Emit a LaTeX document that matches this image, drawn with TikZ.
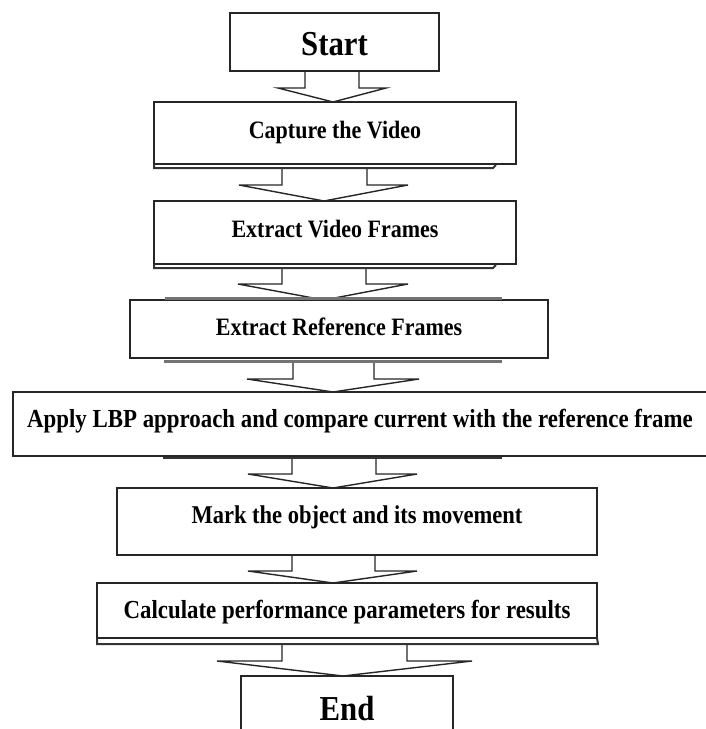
\documentclass[tikz,border=0pt]{standalone}
\usepackage{fontspec}
\newfontfamily\tnr{Liberation Serif}[FakeStretch=0.88]
\pgfdeclarelayer{bg}
\pgfsetlayers{bg,main}
\begin{document}
\begin{tikzpicture}[x=1pt,y=-1pt,
  box/.style={draw=black!85, line width=1.6pt, fill=white, rectangle, inner sep=0pt, outer sep=0pt,
    anchor=north west, font=\tnr\bfseries\fontsize{25}{28}\selectfont},
  bigtext/.style={font=\tnr\bfseries\fontsize{35}{40}\selectfont},
  widetext/.style={font=\tnr\bfseries\fontsize{26}{29}\selectfont},
  barrow/.style={draw=black!85, line width=1.4pt, fill=white, line join=miter},
  shade/.style={draw=black!80, line width=2pt},
  gshade/.style={draw=black!55, line width=3pt}]
\useasboundingbox (0,0) rectangle (706,729);

% boxes
\node[box,bigtext,minimum width=209pt,text height=42pt,text depth=16pt] (start) at (230,13) {Start};
\node[box,minimum width=362pt,text height=36pt,text depth=26pt] (cap) at (154,102) {Capture the Video};
\node[box,minimum width=362pt,text height=36pt,text depth=27pt] (vid) at (154,201) {Extract Video Frames};
\node[box,minimum width=418pt,text height=35pt,text depth=23pt] (ref) at (130,300) {Extract Reference Frames};
\node[box,widetext,minimum width=694pt,text height=35pt,text depth=29pt] (lbp) at (13,392) {Apply LBP approach and compare current with the reference frame};
\node[box,font=\tnr\bfseries\fontsize{25.6}{29}\selectfont,minimum width=480pt,text height=35pt,text depth=32pt] (mark) at (117,488) {Mark the object and its movement};
\node[box,widetext,minimum width=500pt,text height=35pt,text depth=20pt] (calc) at (97,583) {Calculate performance parameters for results};
\node[box,bigtext,minimum width=212pt,text height=44pt,text depth=25pt] (end) at (241,676) {End};

% shadow lines under boxes
\coordinate (capsh) at (154,168);
\coordinate (vidsh) at (154,268);
\coordinate (refsh) at (164,361);
\coordinate (lbpsh) at (163,458);
\coordinate (calcsh) at (97,644);
\draw[shade] (cap.south west) -- (capsh) -- (493,168) -- (496,165);
\draw[shade] (vid.south west) -- (vidsh) -- (493,268) -- (496,265);
\draw[gshade] (165,298) -- (502,298);
\draw[gshade] (refsh) -- (502,361);
\draw[shade] (lbpsh) -- (502,458);
\draw[shade] (calc.south west) -- (calcsh) -- (598,644) -- (calc.south east);

% block arrows
\begin{pgfonlayer}{bg}
\draw[barrow] (305,0 |- start.south) -- (305,88) -- (278,88) -- (333,0 |- cap.north) -- (386,88) -- (359,88) -- (359,0 |- start.south);
\draw[barrow] (282,0 |- capsh) -- (282,185) -- (239,185) -- (324,0 |- vid.north) -- (408,185) -- (367,185) -- (367,0 |- capsh);
\draw[barrow] (282,0 |- vidsh) -- (282,284) -- (238,284) -- (324,0 |- ref.north) -- (408,284) -- (366,284) -- (366,0 |- vidsh);
\draw[barrow] (293,0 |- refsh) -- (293,379) -- (247,379) -- (333,0 |- lbp.north) -- (419,379) -- (374,379) -- (374,0 |- refsh);
\draw[barrow] (292,0 |- lbpsh) -- (292,474) -- (248,474) -- (333,0 |- mark.north) -- (417,474) -- (376,474) -- (376,0 |- lbpsh);
\draw[barrow] (292,0 |- mark.south) -- (292,571) -- (248,571) -- (333,0 |- calc.north) -- (417,571) -- (375,571) -- (375,0 |- mark.south);
\draw[barrow] (282,0 |- calcsh) -- (282,661) -- (217,661) -- (343,0 |- end.north) -- (472,661) -- (407,661) -- (407,0 |- calcsh);
\end{pgfonlayer}
\end{tikzpicture}
\end{document}
